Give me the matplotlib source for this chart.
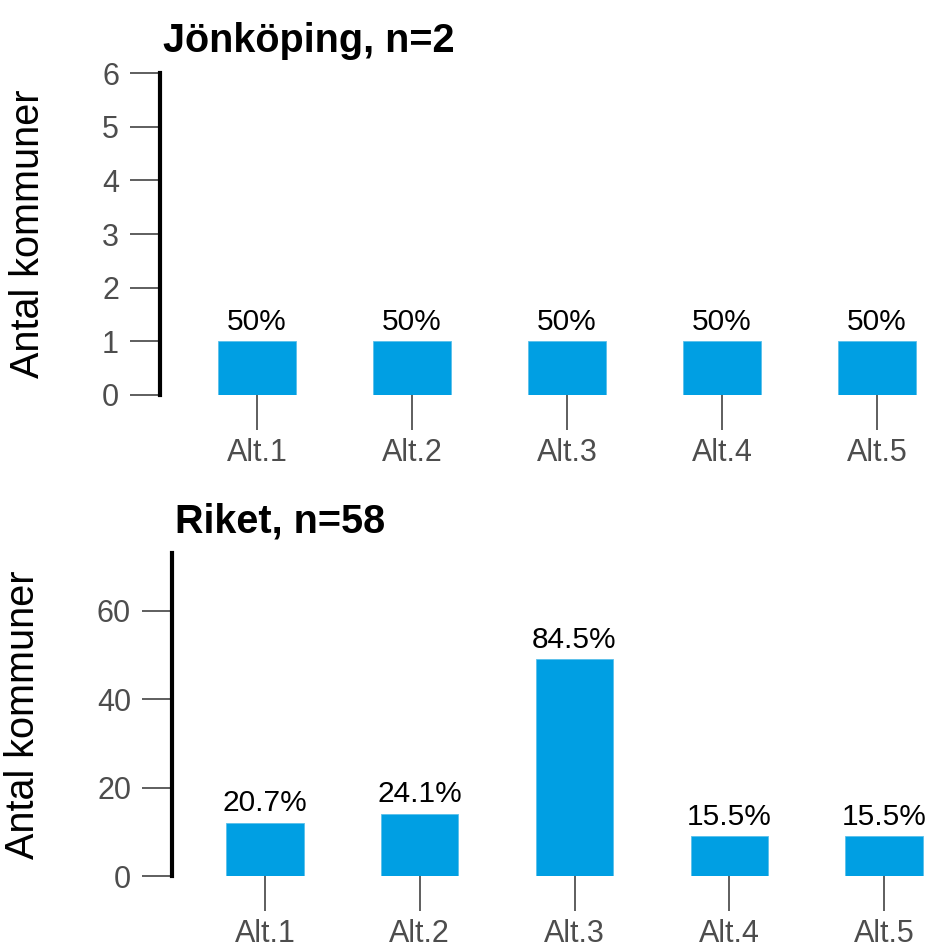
import numpy as np
import matplotlib
matplotlib.use("Agg")
import matplotlib.pyplot as plt

plt.rcParams['font.family'] = ['Liberation Sans', 'DejaVu Sans']

# data
kategorier = ["Alt.1", "Alt.2", "Alt.3", "Alt.4", "Alt.5"]
jkp_antal = [1, 1, 1, 1, 1]
jkp_n = 2
riket_antal = [12, 14, 49, 9, 9]
riket_n = 58

jkp_yticks = [0, 1, 2, 3, 4, 5, 6]
riket_yticks = [0, 20, 40, 60]

bar_farg = "#009FE3"
W, H = 929, 947


def pct_text(v, n):
    p = 100 * v / n
    if abs(p - round(p)) < 1e-9:
        return f"{int(round(p))}%"
    return f"{p:.1f}%"


def rita(ax, antal, n, titel, yticks, ylim, ylab_x):
    x = np.arange(len(kategorier))
    ax.bar(x, antal, width=0.5, color=bar_farg, edgecolor="#5BC0EB", linewidth=0.6)
    for xi, v in zip(x, antal):
        ax.annotate(pct_text(v, n), (xi, v), xytext=(0, 4), textcoords="offset points",
                    ha="center", va="bottom", fontsize=21.5, color="black")
    ax.set_ylim(*ylim)
    ax.set_yticks(yticks)
    ax.set_xticks(x)
    ax.set_xticklabels(kategorier)
    for s in ["top", "right", "bottom"]:
        ax.spines[s].set_visible(False)
    ax.spines["left"].set_linewidth(3)
    ax.spines["left"].set_color("black")
    ax.spines["left"].set_bounds(ylim[0], ylim[1])
    ax.tick_params(axis="y", length=21.5, width=1.1, color="#333333", pad=8,
                   labelsize=22, labelcolor="#4D4D4D")
    ax.tick_params(axis="x", length=25, width=1.1, color="#333333", pad=6,
                   labelsize=22, labelcolor="#4D4D4D")
    ax.set_ylabel("Antal kommuner", fontsize=28.5, color="black")
    ax.yaxis.set_label_coords(ylab_x, 0.5)
    ax.set_title(titel, loc="left", fontsize=28.5, fontweight="bold", pad=15, x=0.004)
    ax.patch.set_alpha(0)


fig = plt.figure(figsize=(W / 100, H / 100), dpi=100)

# top panel: spine x=160, y 73..395, bar centres 257 + 155*i
l1, t1, b1 = 160, 73, 395
ax1 = fig.add_axes([l1 / W, (H - b1) / H, (W - l1) / W, (b1 - t1) / H])
rita(ax1, jkp_antal, jkp_n, f"Jönköping, n={jkp_n}", jkp_yticks, (0, 6),
     (47 - l1) / (W - l1))
ax1.set_xlim((l1 - 257) / 155, (W - 257) / 155)

# bottom panel: spine x=172, y 553..876, bar centres 265 + 154.75*i
l2, t2, b2 = 172, 553, 876
ax2 = fig.add_axes([l2 / W, (H - b2) / H, (W - l2) / W, (b2 - t2) / H])
rita(ax2, riket_antal, riket_n, f"Riket, n={riket_n}", riket_yticks, (0, 73),
     (42 - l2) / (W - l2))
ax2.set_xlim((l2 - 265) / 154.75, (W - 265) / 154.75)

fig.savefig("out.png", dpi=100)
